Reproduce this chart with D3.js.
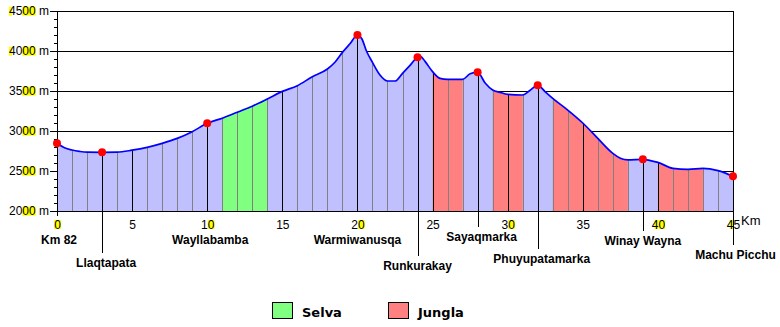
<!DOCTYPE html>
<html>
<head>
<meta charset="utf-8">
<script src="https://cdn.jsdelivr.net/npm/d3@7"></script>
<style>
  html, body { margin: 0; padding: 0; background: #ffffff; }
  svg { display: block; }
</style>
</head>
<body>
<svg id="chart" width="780" height="327"></svg>
<script>
// ---------------- DATA ----------------
const profileKm   = [0, 0.5, 1, 1.5, 2, 3, 4, 5, 6, 7, 8, 9, 10, 11, 12, 13, 14, 15, 16, 17, 18, 18.5, 19, 19.5, 20, 20.3, 20.6, 21, 21.5, 22, 22.5, 23, 23.5, 24, 24.2, 24.5, 25, 25.5, 26, 27, 27.5, 28, 28.5, 29, 29.5, 30, 31, 31.5, 32, 32.5, 33, 34, 35, 36, 37, 37.5, 38, 39, 39.5, 40, 41, 42, 43, 44, 45];
const profileElev = [2846, 2790, 2762, 2745, 2735, 2733, 2735, 2760, 2796, 2846, 2908, 2992, 3096, 3160, 3235, 3310, 3400, 3495, 3567, 3679, 3775, 3860, 3983, 4090, 4200, 4150, 4000, 3858, 3700, 3625, 3625, 3721, 3820, 3921, 3930, 3870, 3742, 3658, 3646, 3646, 3715, 3733, 3600, 3512, 3483, 3458, 3450, 3510, 3571, 3490, 3408, 3262, 3100, 2908, 2721, 2660, 2638, 2646, 2630, 2608, 2533, 2521, 2533, 2504, 2433];

const placeNames = ["Km 82", "Llaqtapata", "Wayllabamba", "Warmiwanusqa", "Runkurakay", "Sayaqmarka", "Phuyupatamarka", "Winay Wayna", "Machu Picchu"];
const placeKm    = [0, 3, 10, 20, 24, 28, 32, 39, 45];
const placeElev  = [2846, 2733, 3096, 4200, 3921, 3733, 3571, 2646, 2433];

const selvaRanges  = [[11, 14]];
const junglaRanges = [[25, 27], [29, 31], [33, 38], [40, 43]];

const yTickValues = [2000, 2500, 3000, 3500, 4000, 4500];
const xTickValues = [0, 5, 10, 15, 20, 25, 30, 35, 40, 45];
const legendLabels = ["Selva", "Jungla"];
const xUnitLabel = "Km";
const yUnitSuffix = " m";

// ---------------- LAYOUT / STYLE ----------------
const COL_BASE = "#c0c0ff", COL_SELVA = "#80ff80", COL_JUNGLA = "#ff8080";
const COL_LINE = "#0000ff", COL_DOT = "#ff0000", COL_HI = "#ffff00";
const labelBaseline = [244, 267, 244, 244, 270, 241, 263, 245, 259];
const labelDx       = [2, 4, 3, 0, 0, 4, 4, 0, 2.5];
const hasLeader     = [false, true, false, false, true, true, true, true, true];

const svg = d3.select("#chart");
const x = d3.scaleLinear().domain([0, 45]).range([57, 733]);
const y = d3.scaleLinear().domain([2000, 4500]).range([211, 11]);

const data = profileKm.map((k, i) => ({ km: k, elev: profileElev[i] }));

// horizontal grid (behind)
svg.append("g").selectAll("line").data(yTickValues.filter(v => v > 2000)).join("line")
  .attr("x1", x(0)).attr("x2", x(45))
  .attr("y1", d => y(d)).attr("y2", d => y(d))
  .attr("stroke", "#000").attr("stroke-width", 1)
  .attr("shape-rendering", "crispEdges");

const area = d3.area().x(d => x(d.km)).y0(y(2000)).y1(d => y(d.elev)).curve(d3.curveMonotoneX);
const line = d3.line().x(d => x(d.km)).y(d => y(d.elev)).curve(d3.curveMonotoneX);

svg.append("clipPath").attr("id", "profileClip").append("path").attr("d", area(data));

svg.append("path").attr("d", area(data)).attr("fill", COL_BASE);

const clipped = svg.append("g").attr("clip-path", "url(#profileClip)");
clipped.selectAll("rect.selva").data(selvaRanges).join("rect").attr("class", "selva")
  .attr("x", d => x(d[0])).attr("width", d => x(d[1]) - x(d[0]))
  .attr("y", y(4500)).attr("height", y(2000) - y(4500)).attr("fill", COL_SELVA);
clipped.selectAll("rect.jungla").data(junglaRanges).join("rect").attr("class", "jungla")
  .attr("x", d => x(d[0])).attr("width", d => x(d[1]) - x(d[0]))
  .attr("y", y(4500)).attr("height", y(2000) - y(4500)).attr("fill", COL_JUNGLA);

const kmLines = d3.range(1, 46);
clipped.selectAll("line.km").data(kmLines).join("line").attr("class", "km")
  .attr("x1", d => Math.round(x(d)) + 0.5).attr("x2", d => Math.round(x(d)) + 0.5)
  .attr("y1", y(2000)).attr("y2", y(4500))
  .attr("stroke", d => (d % 5 === 0 || placeKm.includes(d)) ? "#000" : "#808080")
  .attr("stroke-width", 1);

svg.append("path").attr("d", line(data)).attr("fill", "none")
  .attr("stroke", COL_LINE).attr("stroke-width", 1.7);

// right border
svg.append("line").attr("x1", Math.round(x(45)) + 0.5).attr("x2", Math.round(x(45)) + 0.5)
  .attr("y1", y(4500)).attr("y2", y(2000)).attr("stroke", "#000");

// Y axis major
const fontMain = "'Liberation Sans', Arial, sans-serif";
const yAxis = svg.append("g").attr("transform", `translate(${x(0)},0)`)
  .call(d3.axisLeft(y).tickValues(yTickValues).tickSize(7).tickSizeOuter(0).tickPadding(1)
    .tickFormat(d => d + yUnitSuffix));
yAxis.selectAll("text").attr("font-family", fontMain).attr("font-size", 12).attr("fill", "#000");
yAxis.select(".domain").remove();
// Y axis minor
const yMinor = svg.append("g").attr("transform", `translate(${x(0)},0)`)
  .call(d3.axisLeft(y).tickValues(d3.range(2000, 4501, 100)).tickSize(3).tickSizeOuter(0).tickFormat(""));
yMinor.select(".domain").remove();
svg.append("line").attr("x1", x(0) + 0.5).attr("x2", x(0) + 0.5)
  .attr("y1", y(4500)).attr("y2", y(2000) + 5).attr("stroke", "#000");

// X axis
const xAxis = svg.append("g").attr("transform", `translate(0,${y(2000)})`)
  .call(d3.axisBottom(x).tickValues(xTickValues).tickSize(0).tickSizeOuter(0).tickPadding(9));
xAxis.selectAll("text").attr("font-family", fontMain).attr("font-size", 12).attr("fill", "#000");
xAxis.select(".domain").attr("stroke", "#000");

// yellow highlights behind certain digits
function highlight(textNode, idx, f0, f1) {
  const start = textNode.getStartPositionOfChar(idx);
  const w = textNode.getSubStringLength(idx, 1);
  d3.select(textNode.parentNode).insert("rect", "text")
    .attr("x", start.x + w * f0).attr("width", w * (f1 - f0))
    .attr("y", start.y - 8.6).attr("height", 9)
    .attr("fill", COL_HI);
}
yAxis.selectAll("text").each(function () {
  const s = this.textContent;
  highlight(this, 2, 0, 1); highlight(this, 3, 0, 1);
  if (s[0] === "4") highlight(this, 0, 0, 0.45);
});
xAxis.selectAll("text").each(function () {
  const s = this.textContent;
  const last = s.length - 1;
  if (s[last] === "0") highlight(this, last, 0, 1);
  if (s[0] === "4") highlight(this, 0, 0.4, 1);
});

// unit label
svg.append("text").attr("x", 741).attr("y", 225).text(xUnitLabel)
  .attr("font-family", fontMain).attr("font-size", 13).attr("fill", "#000");

// leaders and place labels
placeKm.forEach((k, i) => {
  if (hasLeader[i]) {
    svg.append("line").attr("x1", Math.round(x(k)) + 0.5).attr("x2", Math.round(x(k)) + 0.5)
      .attr("y1", y(2000)).attr("y2", labelBaseline[i] - 14).attr("stroke", "#000");
  }
});
svg.append("g").selectAll("text").data(placeNames).join("text")
  .attr("x", (d, i) => x(placeKm[i]) + labelDx[i])
  .attr("y", (d, i) => labelBaseline[i])
  .attr("text-anchor", "middle")
  .attr("font-family", fontMain).attr("font-size", 12).attr("font-weight", "bold")
  .attr("fill", "#000").text(d => d);

// dots
svg.append("g").selectAll("circle").data(placeKm).join("circle")
  .attr("cx", d => x(d)).attr("cy", (d, i) => y(placeElev[i])).attr("r", 4)
  .attr("fill", COL_DOT);

// legend
const legendColors = [COL_SELVA, COL_JUNGLA];
const legendX = [272, 388];
const lg = svg.append("g").selectAll("g").data(legendLabels).join("g")
  .attr("transform", (d, i) => `translate(${legendX[i]},302)`);
lg.append("rect").attr("x", 0.5).attr("y", 0.5).attr("width", 20).attr("height", 16)
  .attr("fill", (d, i) => legendColors[i]).attr("stroke", "#000");
lg.append("text").attr("x", 30).attr("y", 15).text(d => d)
  .attr("font-family", "'DejaVu Sans', sans-serif").attr("font-size", 13).attr("font-weight", "bold")
  .attr("fill", "#000");
</script>
</body>
</html>
